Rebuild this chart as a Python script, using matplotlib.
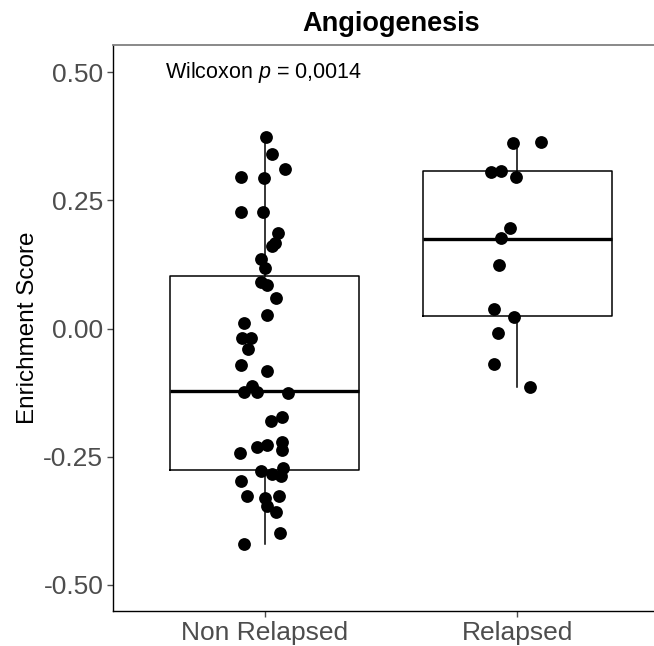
import numpy as np
import matplotlib.pyplot as plt

plt.rcParams['font.family'] = ['Liberation Sans', 'DejaVu Sans']
plt.rcParams['mathtext.fontset'] = 'custom'
plt.rcParams['mathtext.rm'] = 'Liberation Sans'
plt.rcParams['mathtext.it'] = 'Liberation Sans:italic'

# dados
groups = ["Non Relapsed", "Relapsed"]

nr_score = [0.373, 0.340, 0.311, 0.295, 0.293, 0.228, 0.227, 0.187, 0.166, 0.160,
            0.135, 0.118, 0.090, 0.085, 0.060, 0.027, 0.010, -0.019, -0.019, -0.040,
            -0.072, -0.082, -0.123, -0.113, -0.124, -0.125, -0.180, -0.173, -0.231, -0.228,
            -0.222, -0.236, -0.243, -0.277, -0.283, -0.287, -0.272, -0.298, -0.326, -0.331,
            -0.326, -0.346, -0.358, -0.399, -0.420]
nr_jitter = [0.004, 0.030, 0.080, -0.095, -0.003, -0.092, -0.008, 0.054, 0.041, 0.030,
             -0.013, 0.000, -0.016, 0.008, 0.043, 0.008, -0.082, -0.088, -0.055, -0.066,
             -0.095, 0.011, -0.082, -0.049, -0.032, 0.093, 0.024, 0.070, -0.029, 0.008,
             0.067, 0.067, -0.098, -0.016, 0.030, 0.063, 0.074, -0.095, -0.069, 0.000,
             0.057, 0.008, 0.043, 0.059, -0.082]

rel_score = [0.361, 0.363, 0.306, 0.308, 0.296, 0.196, 0.176, 0.124, 0.038, 0.023,
             -0.009, -0.069, -0.114]
rel_jitter = [-0.019, 0.093, -0.105, -0.063, -0.005, -0.028, -0.063, -0.071, -0.091, -0.015,
              -0.076, -0.091, 0.051]

# resumo dos boxplots
q1 = [-0.275, 0.025]
med = [-0.121, 0.175]
q3 = [0.103, 0.308]
wlo = [-0.420, -0.114]
whi = [0.373, 0.363]

fig = plt.figure(figsize=(6.54, 6.46), dpi=100)
ax = fig.add_axes([113 / 654, 1 - 611 / 646, 556 / 654, 566 / 646])

stats = []
for i in range(2):
    stats.append({"med": med[i], "q1": q1[i], "q3": q3[i],
                  "whislo": wlo[i], "whishi": whi[i], "fliers": []})

ax.bxp(stats, positions=[1, 2], widths=0.75, showcaps=False,
       boxprops=dict(color="black", linewidth=1.1),
       whiskerprops=dict(color="black", linewidth=1.1),
       medianprops=dict(color="black", linewidth=2.4))

ax.scatter(1 + np.array(nr_jitter), nr_score, s=85, color="black", zorder=3, linewidths=0)
ax.scatter(2 + np.array(rel_jitter), rel_score, s=85, color="black", zorder=3, linewidths=0)

ax.set_xlim(0.4, 2.6)
ax.set_ylim(-0.551, 0.553)
ax.set_xticks([1, 2])
ax.set_xticklabels(groups)
ax.set_yticks([-0.5, -0.25, 0, 0.25, 0.5])
ax.set_yticklabels(["-0.50", "-0.25", "0.00", "0.25", "0.50"])
ax.tick_params(axis="both", colors="#4D4D4D", labelsize=19, length=4, width=1, pad=3)

ax.spines["right"].set_visible(False)
ax.spines["top"].set_color("#808080")
ax.spines["top"].set_linewidth(1.3)
ax.spines["left"].set_color("black")
ax.spines["bottom"].set_color("black")
ax.spines["left"].set_linewidth(1.0)
ax.spines["bottom"].set_linewidth(1.0)

ax.set_ylabel("Enrichment Score", fontsize=17.5, color="black", labelpad=3)
fig.text(391 / 654, 1 - 24 / 646, "Angiogenesis", fontsize=19.5, fontweight="bold",
         ha="center", va="center")
ax.text(0.605, 0.50, "Wilcoxon $p$ = 0,0014", fontsize=15.5, ha="left", va="center")

plt.savefig("out.png", dpi=100)
